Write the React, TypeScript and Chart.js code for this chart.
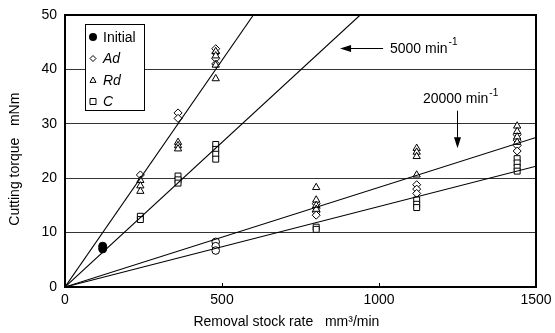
import React, { useEffect, useRef } from "react";
import { Chart, registerables } from "chart.js";
Chart.register(...registerables);

// ---- data ----
const xTickValues = [0, 500, 1000, 1500];
const yTickValues = [0, 10, 20, 30, 40, 50];

const initialX = [120, 120];
const initialY = [7.0, 7.5];
const open20000X = [480, 480, 480];
const open20000Y = [8.3, 7.5, 6.7];

const adX = [240, 360, 360, 480, 480, 480, 480, 800, 800, 800, 800, 1120, 1120, 1120, 1440, 1440, 1440, 1440];
const adY = [20.6, 32.0, 31.0, 43.8, 43.0, 42.0, 41.0, 15.3, 14.5, 13.8, 13.2, 18.8, 18.0, 17.2, 28.0, 27.0, 26.0, 25.0];

const rdX = [240, 240, 240, 360, 360, 360, 480, 480, 480, 480, 800, 800, 800, 800, 1120, 1120, 1120, 1120, 1440, 1440, 1440, 1440];
const rdY = [19.6, 18.6, 17.6, 26.6, 26.0, 25.4, 43.3, 42.5, 40.8, 38.3, 18.3, 16.0, 15.0, 14.3, 25.5, 24.8, 24.0, 20.6, 29.6, 28.6, 27.6, 26.6];

const cX = [240, 240, 360, 360, 360, 480, 480, 480, 480, 800, 800, 1120, 1120, 1120, 1440, 1440, 1440, 1440];
const cY = [13.0, 12.4, 20.4, 19.7, 19.1, 26.2, 25.3, 24.4, 23.5, 11.0, 10.6, 16.0, 15.2, 14.6, 23.6, 22.8, 22.0, 21.3];

const fit5000aX = [0, 600];
const fit5000aY = [0, 50];
const fit5000bX = [0, 940];
const fit5000bY = [0, 50];
const fit20000aX = [0, 1500];
const fit20000aY = [0, 27.5];
const fit20000bX = [0, 1500];
const fit20000bY = [0, 22.2];

const legendLabels = ["Initial", "Ad", "Rd", "C"];
const legendItalic = [false, true, true, true];
const legendShapes = ["dot", "diamond", "triangle", "square"];

const annotationTexts = ["5000 min", "20000 min"];
const annotationSup = "-1";
const xTitle = "Removal stock rate   mm³/min";
const yTitle = "Cutting torque   mNm";

const FONT = '"Liberation Sans", Arial, sans-serif';

const pts = (xs: number[], ys: number[]) => xs.map((x, i) => ({ x, y: ys[i] }));

function drawShape(ctx: CanvasRenderingContext2D, shape: string, x: number, y: number, r: number) {
  ctx.beginPath();
  if (shape === "dot") {
    ctx.arc(x, y, r, 0, Math.PI * 2);
    ctx.fillStyle = "#000";
    ctx.fill();
    return;
  }
  if (shape === "diamond") {
    ctx.moveTo(x, y - r);
    ctx.lineTo(x + r, y);
    ctx.lineTo(x, y + r);
    ctx.lineTo(x - r, y);
    ctx.closePath();
  } else if (shape === "triangle") {
    ctx.moveTo(x, y - r);
    ctx.lineTo(x + r, y + r * 0.8);
    ctx.lineTo(x - r, y + r * 0.8);
    ctx.closePath();
  } else {
    ctx.rect(x - r, y - r, 2 * r, 2 * r);
  }
  ctx.fillStyle = "#fff";
  ctx.fill();
  ctx.strokeStyle = "#000";
  ctx.lineWidth = 1;
  ctx.stroke();
}

const framePlugin = {
  id: "frame",
  afterDatasetsDraw(chart: any) {
    const { ctx, chartArea: a, scales } = chart;
    ctx.save();
    // inside x ticks
    ctx.strokeStyle = "#000";
    ctx.lineWidth = 1;
    xTickValues.slice(1, -1).forEach((v) => {
      const px = Math.round(scales.x.getPixelForValue(v)) + 0.5;
      ctx.beginPath();
      ctx.moveTo(px, a.bottom);
      ctx.lineTo(px, a.bottom - 4);
      ctx.stroke();
    });
    ctx.lineWidth = 2;
    ctx.strokeRect(a.left, a.top, a.right - a.left, a.bottom - a.top);

    // legend box
    const lx = a.left + 20, ly = a.top + 9, lw = 59, lh = 86;
    ctx.fillStyle = "#fff";
    ctx.fillRect(lx, ly, lw, lh);
    ctx.lineWidth = 1;
    ctx.strokeRect(lx + 0.5, ly + 0.5, lw, lh);
    legendLabels.forEach((lab, i) => {
      const cy = ly + 13 + i * 21.5;
      drawShape(ctx, legendShapes[i], lx + 8, cy, legendShapes[i] === "dot" ? 4 : 3);
      ctx.fillStyle = "#000";
      ctx.font = `${legendItalic[i] ? "italic " : ""}14px ${FONT}`;
      ctx.textBaseline = "middle";
      ctx.textAlign = "left";
      ctx.fillText(lab, lx + 18, cy + 1);
    });

    // axis titles
    ctx.fillStyle = "#000";
    ctx.font = `14px ${FONT}`;
    ctx.textAlign = "center";
    ctx.textBaseline = "middle";
    ctx.fillText(xTitle, a.left + (a.right - a.left) * 0.47, chart.height - 11);
    ctx.save();
    ctx.translate(15, a.top + (a.bottom - a.top) * 0.53);
    ctx.rotate(-Math.PI / 2);
    ctx.fillText(yTitle, 0, 0);
    ctx.restore();

    // annotations
    const X = (v: number) => scales.x.getPixelForValue(v);
    const Y = (v: number) => scales.y.getPixelForValue(v);
    const drawText = (txt: string, x: number, y: number) => {
      ctx.font = `14px ${FONT}`;
      ctx.textBaseline = "middle";
      ctx.textAlign = "left";
      ctx.fillStyle = "#000";
      ctx.fillText(txt, x, y);
      const w = ctx.measureText(txt).width;
      ctx.font = `10px ${FONT}`;
      ctx.fillText(annotationSup, x + w + 1, y - 6);
    };
    drawText(annotationTexts[0], X(1035), Y(43.8));
    drawText(annotationTexts[1], X(1140), Y(34.6));

    ctx.strokeStyle = "#000";
    ctx.fillStyle = "#000";
    ctx.lineWidth = 1;
    // 5000 arrow (leftward)
    const ay = Math.round(Y(43.9)) + 0.5;
    const ax1 = X(1013), ax2 = X(876);
    ctx.beginPath();
    ctx.moveTo(ax1, ay);
    ctx.lineTo(ax2 + 8, ay);
    ctx.stroke();
    ctx.beginPath();
    ctx.moveTo(ax2, ay);
    ctx.lineTo(ax2 + 11, ay - 3.5);
    ctx.lineTo(ax2 + 11, ay + 3.5);
    ctx.closePath();
    ctx.fill();
    // 20000 arrow (downward)
    const bx = Math.round(X(1248)) + 0.5;
    const by1 = Y(32.4), by2 = Y(25.5);
    ctx.beginPath();
    ctx.moveTo(bx, by1);
    ctx.lineTo(bx, by2 - 8);
    ctx.stroke();
    ctx.beginPath();
    ctx.moveTo(bx, by2);
    ctx.lineTo(bx - 3.5, by2 - 11);
    ctx.lineTo(bx + 3.5, by2 - 11);
    ctx.closePath();
    ctx.fill();
    ctx.restore();
  },
};

export default function App() {
  const ref = useRef<HTMLCanvasElement>(null);
  useEffect(() => {
    const lineDs = (xs: number[], ys: number[]) => ({
      type: "line" as const,
      data: pts(xs, ys),
      borderColor: "#000",
      borderWidth: 1.1,
      pointRadius: 0,
      showLine: true,
      fill: false,
      tension: 0,
    });
    const markerDs = (label: string, xs: number[], ys: number[], style: any, r: number, bg: string) => ({
      type: "scatter" as const,
      label,
      data: pts(xs, ys),
      pointStyle: style,
      pointRadius: r,
      pointBackgroundColor: bg,
      pointBorderColor: "#000",
      pointBorderWidth: 1,
    });
    const chart = new Chart(ref.current!, {
      type: "scatter",
      data: {
        datasets: [
          lineDs(fit5000aX, fit5000aY),
          lineDs(fit5000bX, fit5000bY),
          lineDs(fit20000aX, fit20000aY),
          lineDs(fit20000bX, fit20000bY),
          markerDs("C", cX, cY, "rect", 4.2, "#fff"),
          markerDs("Rd", rdX, rdY, "triangle", 4.2, "#fff"),
          markerDs("Ad", adX, adY, "rectRot", 4, "#fff"),
          markerDs("Initial20000", open20000X, open20000Y, "circle", 3.8, "#fff"),
          markerDs("Initial", initialX, initialY, "circle", 4, "#000"),
        ] as any,
      },
      options: {
        responsive: false,
        animation: false,
        devicePixelRatio: 1,
        layout: { padding: { top: 15, right: 19, left: 0, bottom: 0 } },
        plugins: { legend: { display: false }, tooltip: { enabled: false } },
        scales: {
          x: {
            type: "linear",
            min: 0,
            max: 1500,
            afterBuildTicks: (s: any) => {
              s.ticks = xTickValues.map((v) => ({ value: v }));
            },
            afterFit: (s: any) => {
              s.height = 46;
              s.paddingLeft = 0;
              s.paddingRight = 0;
            },
            grid: { display: false, drawTicks: false },
            border: { display: false },
            ticks: {
              color: "#000",
              font: { family: FONT, size: 14 },
              padding: 5,
              maxRotation: 0,
              callback: (v: any) => String(v),
            },
            title: { display: false },
          },
          y: {
            type: "linear",
            min: 0,
            max: 50,
            afterBuildTicks: (s: any) => {
              s.ticks = yTickValues.map((v) => ({ value: v }));
            },
            afterFit: (s: any) => {
              s.width = 65;
              s.paddingTop = 0;
              s.paddingBottom = 0;
            },
            grid: { color: "#333", lineWidth: 1, drawTicks: false },
            border: { display: false },
            ticks: {
              color: "#000",
              font: { family: FONT, size: 14 },
              padding: 8,
              callback: (v: any) => String(v),
            },
            title: { display: false },
          },
        },
      },
      plugins: [framePlugin],
    } as any);
    return () => chart.destroy();
  }, []);
  return (
    <div style={{ position: "fixed", left: 0, top: 0, width: 555, height: 333, background: "#fff" }}>
      <canvas ref={ref} width={555} height={333} style={{ display: "block", width: 555, height: 333 }} />
    </div>
  );
}
